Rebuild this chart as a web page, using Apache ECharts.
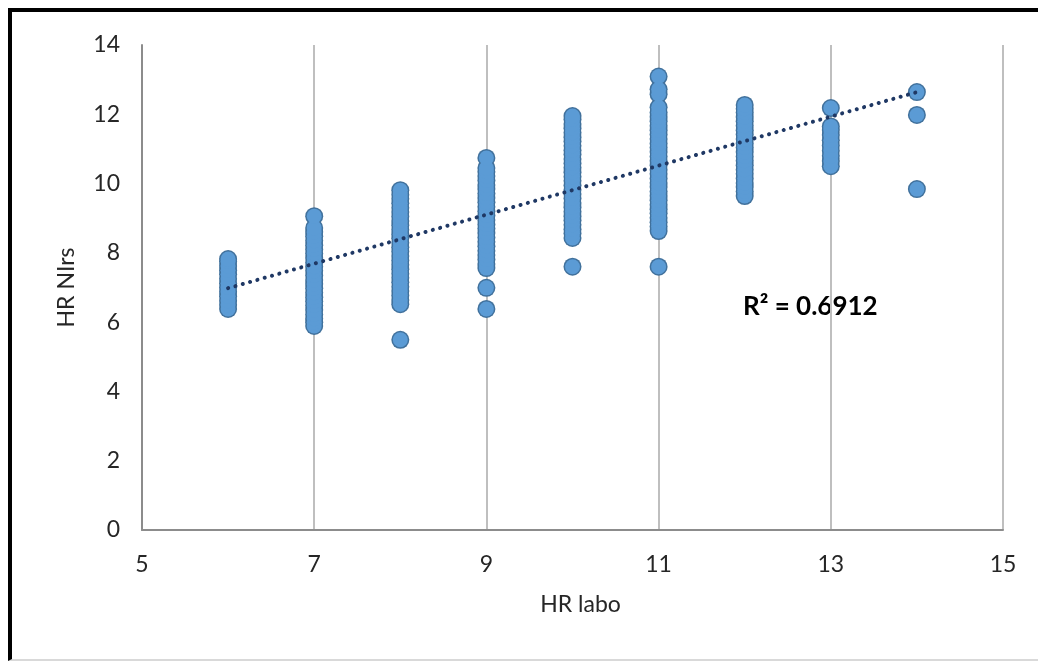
<!DOCTYPE html>
<html>
<head>
<meta charset="utf-8">
<script src="https://cdn.jsdelivr.net/npm/echarts@6/dist/echarts.min.js"></script>
<style>
  html, body { margin: 0; padding: 0; background: #fff; }
  #chart { position: absolute; left: 0; top: 0; width: 1038px; height: 664px; }
  #frame { position: absolute; left: 8px; top: 8px; width: 1030px; height: 653px;
           border-left: 4px solid #000; border-top: 4px solid #000; border-bottom: 2px solid #d9d9d9;
           box-sizing: border-box; pointer-events: none; }
</style>
</head>
<body>
<div id="chart"></div>
<div id="frame"></div>
<script>
// ---- data ----
const xTicks = [5, 7, 9, 11, 13, 15];
const yTicks = [0, 2, 4, 6, 8, 10, 12, 14];
const hrLaboLevels = [6, 7, 8, 9, 10, 11, 12, 13, 14];
const nirs6 = [6.38, 6.5, 6.62, 6.75, 6.88, 7.0, 7.12, 7.25, 7.38, 7.5, 7.62, 7.75, 7.82];
const nirs7 = [5.89, 6.0, 6.1, 6.22, 6.35, 6.48, 6.6, 6.72, 6.85, 6.98, 7.1, 7.22, 7.35, 7.48, 7.6, 7.72, 7.85, 7.98, 8.1, 8.22, 8.35, 8.48, 8.6, 8.72, 9.06];
const nirs8 = [5.49, 6.52, 6.64, 6.77, 6.9, 7.02, 7.15, 7.28, 7.4, 7.53, 7.66, 7.78, 7.91, 8.04, 8.16, 8.29, 8.42, 8.54, 8.67, 8.8, 8.92, 9.05, 9.18, 9.3, 9.43, 9.56, 9.68, 9.81];
const nirs9 = [6.38, 6.99, 7.56, 7.68, 7.81, 7.94, 8.06, 8.19, 8.32, 8.44, 8.57, 8.7, 8.82, 8.95, 9.08, 9.2, 9.33, 9.46, 9.58, 9.71, 9.84, 9.96, 10.09, 10.22, 10.34, 10.45, 10.74];
const nirs10 = [7.6, 8.43, 8.56, 8.68, 8.81, 8.94, 9.06, 9.19, 9.32, 9.44, 9.57, 9.7, 9.82, 9.95, 10.08, 10.2, 10.33, 10.46, 10.58, 10.71, 10.84, 10.96, 11.09, 11.22, 11.34, 11.47, 11.6, 11.72, 11.85, 11.95];
const nirs11 = [7.6, 8.63, 8.76, 8.88, 9.01, 9.14, 9.26, 9.39, 9.52, 9.64, 9.77, 9.9, 10.02, 10.15, 10.28, 10.4, 10.53, 10.66, 10.78, 10.91, 11.04, 11.16, 11.29, 11.42, 11.54, 11.67, 11.8, 11.92, 12.05, 12.2, 12.58, 12.72, 13.09];
const nirs12 = [9.64, 9.77, 9.9, 10.02, 10.15, 10.28, 10.4, 10.53, 10.66, 10.78, 10.91, 11.04, 11.16, 11.29, 11.42, 11.54, 11.67, 11.8, 11.92, 12.05, 12.16, 12.27];
const nirs13 = [10.5, 10.65, 10.8, 10.95, 11.1, 11.25, 11.4, 11.55, 11.65, 12.18];
const nirs14 = [9.84, 11.98, 12.64];
const trendX = [6, 14];
const trendY = [6.98, 12.64];
const r2Label = 'R² = 0.6912';
const xName = 'HR labo';
const yName = 'HR NIrs';

// ---- build series data ----
const groups = [nirs6, nirs7, nirs8, nirs9, nirs10, nirs11, nirs12, nirs13, nirs14];
const scatterData = [];
groups.forEach((arr, i) => arr.forEach(v => scatterData.push([hrLaboLevels[i], v])));
const trendData = trendX.map((x, i) => [x, trendY[i]]);

const FONT = 'Lato, "Open Sans", sans-serif';
const chart = echarts.init(document.getElementById('chart'), null, { renderer: 'canvas' });
chart.setOption({
  backgroundColor: '#ffffff',
  animation: false,
  grid: { left: 142, right: 35, top: 45, bottom: 134, containLabel: false },
  xAxis: {
    type: 'value', min: 5, max: 15, interval: 2,
    name: xName, nameLocation: 'middle', nameGap: 63,
    nameTextStyle: { fontFamily: FONT, fontSize: 23, color: '#262626', padding: [0, 0, 0, 16] },
    axisLine: { show: true, lineStyle: { color: '#8c8c8c', width: 2 } },
    axisTick: { show: false },
    axisLabel: { fontFamily: FONT, fontSize: 23, color: '#262626', margin: 23 },
    splitLine: { show: true, lineStyle: { color: '#bfbfbf', width: 2 } }
  },
  yAxis: {
    type: 'value', min: 0, max: 14, interval: 2,
    name: yName, nameLocation: 'middle', nameGap: 64,
    nameTextStyle: { fontFamily: FONT, fontSize: 23, color: '#262626' },
    axisLine: { show: true, lineStyle: { color: '#8c8c8c', width: 2 } },
    axisTick: { show: false },
    axisLabel: { fontFamily: FONT, fontSize: 23, color: '#262626', margin: 22 },
    splitLine: { show: false }
  },
  series: [
    {
      // outline layer
      type: 'scatter',
      data: scatterData,
      symbol: 'circle',
      symbolSize: 18,
      itemStyle: { color: '#41719c', opacity: 1 },
      silent: true,
      z: 2
    },
    {
      // fill layer
      type: 'scatter',
      data: scatterData,
      symbol: 'circle',
      symbolSize: 15,
      itemStyle: { color: '#5b9bd5', opacity: 1 },
      z: 3
    },
    {
      type: 'line',
      data: trendData,
      symbol: 'none',
      lineStyle: { color: '#1f3864', width: 4, type: [0.1, 7.5], cap: 'round' },
      z: 4
    }
  ],
  graphic: [
    {
      type: 'text', left: 743, top: 294,
      style: { text: r2Label, fontFamily: FONT, fontSize: 26, fontWeight: 'bold', fill: '#000' }
    }
  ]
});
</script>
</body>
</html>
